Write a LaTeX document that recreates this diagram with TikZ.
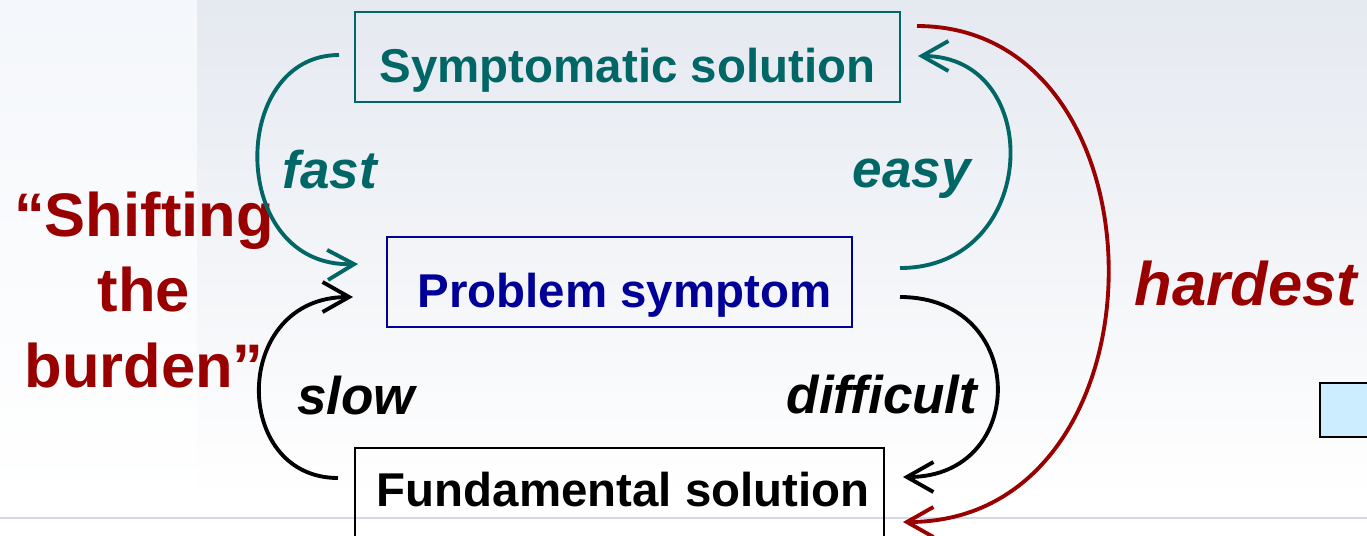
\documentclass[tikz,border=0pt]{standalone}
\usepackage{fontspec}
\setmainfont{Liberation Sans}
\usetikzlibrary{arrows.meta}

\definecolor{symgreen}{RGB}{0,102,102}
\definecolor{probblue}{RGB}{0,0,153}
\definecolor{burdenred}{RGB}{153,0,0}
\definecolor{stockblue}{RGB}{204,236,255}
\definecolor{bgtop}{RGB}{229,233,240}
\definecolor{bgleft}{RGB}{244,247,251}
\definecolor{bgline}{RGB}{214,214,236}

\begin{document}
\begin{tikzpicture}
  [x=0.02cm,y=-0.02cm,
   box/.style={rectangle,draw,line width=1.2pt,inner sep=0pt,
               font=\fontsize{27}{32}\selectfont\bfseries,
               minimum height=1.8cm,text height=28.5pt,text depth=0pt},
   lbl/.style={font=\fontsize{30.2}{36}\selectfont\bfseries\itshape,anchor=base},
   loop/.style={line width=2.2pt,-{Straight Barb[length=5.3mm,width=6mm]}}]
  \useasboundingbox (0,0) rectangle (1367,535);
  \clip (0,0) rectangle (1367,535);

  % background
  \fill[white] (0,0) rectangle (1367,535);
  \shade[top color=bgtop,bottom color=white] (197,0) rectangle (1367,500);
  \shade[top color=bgleft,bottom color=white] (0,0) rectangle (197,500);
  \draw[bgline,line width=1.4pt] (0,518) -- (1367,518);

  % the three boxes
  \node[box,draw=symgreen,text=symgreen,minimum width=10.9cm] (symp) at (627.5,57)
    {Symptomatic solution};
  \node[box,draw=probblue,text=probblue,minimum width=9.3cm] (problem) at (619.5,282)
    {\hspace*{0.2cm}Problem symptom};
  \node[box,minimum width=10.58cm,minimum height=2.24cm,text height=3.4pt] (fund) at (619.5,504)
    {\hspace*{0.15cm}Fundamental solution};
  \node[rectangle,draw,line width=1.2pt,fill=stockblue,minimum width=1.6cm,minimum height=1.08cm]
    (stock) at (1360,410) {};

  % labels
  \node[font=\fontsize{35}{43.2}\selectfont\bfseries,text=burdenred,align=center] (burden) at (144,290)
    {``Shifting\\the\\burden''};
  \node[lbl,text=symgreen] (fast) at (330,188) {fast};
  \node[lbl,text=symgreen] (easy) at (912,187) {easy};
  \node[lbl] (slow) at (356,414) {slow};
  \node[lbl] (difficult) at (882,413) {difficult};
  \node[lbl,font=\fontsize{35}{42}\selectfont\bfseries\itshape,text=burdenred] (hardest) at (1246,305)
    {hardest};

  % loop ends
  \coordinate (fast-a) at (339,55);
  \coordinate (fast-b) at (358,264);
  \coordinate (easy-a) at (900,268);
  \coordinate (easy-b) at (918,56);
  \coordinate (slow-a) at (338,478);
  \coordinate (slow-b) at (353,297);
  \coordinate (diff-a) at (900,297);
  \coordinate (diff-b) at (903,477);
  \coordinate (hard-a) at (917,26);
  \coordinate (hard-b) at (903,522);

  \draw[loop,symgreen] (fast-a) .. controls (228,55) and (228,268) .. (fast-b);
  \draw[loop,symgreen] (easy-a) .. controls (1040,268) and (1046,56) .. (easy-b);
  \draw[loop] (slow-a) .. controls (231,478) and (231,297) .. (slow-b);
  \draw[loop] (diff-a) .. controls (1029,297) and (1029,477) .. (diff-b);
  \draw[loop,burdenred] (hard-a) .. controls (1174,26) and (1174,522) .. (hard-b);
\end{tikzpicture}
\end{document}
